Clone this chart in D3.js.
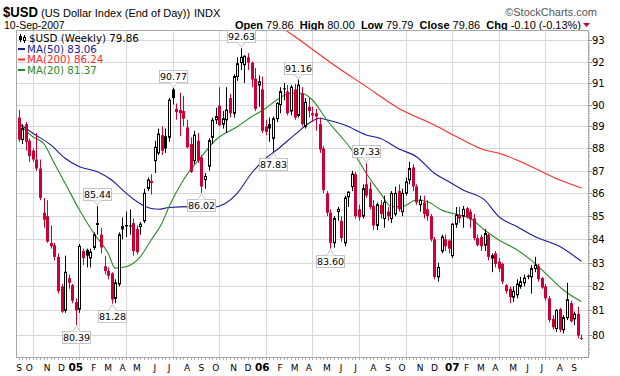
<!DOCTYPE html>
<html>
<head>
<meta charset="utf-8">
<script src="https://d3js.org/d3.v7.min.js"></script>
<style>
  body { margin: 0; background: #fff; }
  text { font-family: "DejaVu Sans", Verdana, sans-serif; }
</style>
</head>
<body>
<div id="chart"></div>
<script>
// weekly bars, first bar is the week of 6-Sep-2004
var firstWeek = "2004-09-06";

var opens = [89.40,88.40,89.10,88.35,87.90,87.50,87.10,85.15,85.00,83.85,83.75,83.25,82.00,81.00,82.35,82.05,81.35,81.05,83.50,83.55,
  83.20,83.65,84.70,84.20,82.85,82.65,82.55,81.50,82.10,84.45,84.62,84.60,84.70,84.45,84.55,84.80,86.22,86.55,87.45,87.80,
  88.60,88.55,88.50,90.70,89.80,89.75,89.70,88.95,88.20,87.45,88.35,87.60,86.60,87.20,88.50,89.30,89.95,89.10,89.30,90.30,
  89.60,91.30,91.95,91.85,92.20,91.95,91.20,90.90,90.70,89.00,89.10,88.45,89.35,90.00,90.75,90.60,89.70,90.70,89.50,90.50,
  89.00,89.90,89.60,89.60,89.10,88.00,86.00,85.15,83.85,85.20,84.80,83.85,85.85,86.30,86.85,85.30,85.00,86.40,86.20,85.45,
  84.60,85.50,84.90,85.20,84.90,85.10,86.10,85.20,86.00,86.60,87.15,86.30,85.50,85.60,85.30,85.00,84.00,82.40,83.50,84.00,
  83.95,83.30,84.65,85.05,85.00,85.35,85.20,84.90,84.05,84.10,83.75,84.20,83.20,83.40,83.05,82.95,82.05,81.90,81.55,81.65,
  82.00,82.15,82.45,82.40,82.75,82.85,82.35,82.00,81.50,80.65,80.25,81.05,80.20,80.70,81.30,80.65,80.85,79.86];
var highs = [89.75,89.10,89.20,88.45,88.00,88.70,87.50,85.80,85.70,84.60,83.85,83.40,82.10,83.30,82.50,82.10,81.50,83.80,83.60,83.60,
  83.60,84.30,85.44,84.50,83.30,82.80,82.60,82.30,84.30,84.95,85.20,85.30,84.90,84.60,84.75,86.20,86.70,86.85,88.35,88.90,
  89.00,88.90,90.30,90.77,90.05,90.55,90.40,89.30,88.50,88.80,88.70,87.70,86.90,88.45,89.40,89.85,90.80,89.70,90.80,90.50,
  91.40,92.20,92.63,92.30,92.40,92.00,91.70,91.35,91.30,89.30,89.40,89.45,90.10,90.80,91.00,90.90,90.90,90.95,91.16,90.80,
  90.30,90.30,89.90,89.80,89.40,88.10,86.10,85.30,85.00,85.40,85.00,85.90,86.10,87.00,86.95,85.50,86.40,87.33,86.50,85.70,
  85.60,85.70,85.90,85.40,86.10,86.30,86.40,86.20,86.70,87.40,87.30,86.40,85.90,85.90,85.70,85.10,84.10,83.00,84.20,84.20,
  84.00,84.70,85.40,85.40,85.45,85.40,85.30,85.10,84.20,84.20,84.45,84.25,83.40,83.50,83.20,83.00,82.10,82.00,82.00,82.30,
  82.40,82.50,82.50,82.90,83.25,82.95,82.40,82.10,81.60,80.80,81.05,81.10,80.80,82.15,81.40,80.95,81.15,80.00];
var lows = [88.30,88.20,87.90,87.40,87.40,87.00,85.70,84.50,83.85,83.60,83.10,81.70,80.90,80.90,81.90,81.30,80.39,80.90,82.90,82.80,
  82.80,83.55,84.20,83.40,82.50,82.30,81.28,81.30,82.00,84.00,84.10,84.20,83.30,83.35,84.20,84.70,86.10,85.95,86.90,87.70,
  87.70,87.80,88.30,90.00,89.30,88.55,89.00,88.00,86.90,87.30,87.35,86.02,86.20,87.00,88.20,89.10,89.00,88.90,88.70,89.40,
  89.40,91.10,91.60,91.00,91.60,90.80,89.70,89.90,88.70,88.60,88.30,87.83,89.20,89.60,90.20,89.50,89.50,89.30,89.40,89.00,
  88.90,89.40,89.20,88.80,87.80,86.00,85.00,83.60,83.65,84.80,83.90,83.70,85.40,86.10,84.90,84.80,84.90,85.80,85.30,84.40,
  84.40,84.90,84.50,84.80,84.70,85.00,85.20,85.00,85.90,86.40,86.10,85.50,85.20,84.90,84.80,83.90,82.30,82.20,83.40,83.50,
  83.40,83.20,84.50,84.70,84.50,84.90,84.50,83.95,83.70,83.50,83.50,83.10,82.60,82.80,82.60,82.10,81.70,81.30,81.35,81.50,
  81.90,82.00,82.30,81.70,82.60,82.20,81.90,81.40,80.50,80.20,80.10,80.10,80.05,80.60,80.50,80.40,79.85,79.79];
var closes = [88.40,88.90,88.30,87.65,87.50,87.10,85.80,84.85,83.90,83.70,83.25,81.80,80.95,82.60,82.15,81.40,81.00,83.70,83.20,83.30,
  83.45,84.20,84.62,83.65,82.65,82.45,81.45,82.15,84.20,84.55,84.55,84.56,83.50,83.45,84.65,86.00,86.59,86.45,88.05,88.65,
  87.90,88.00,90.20,90.30,89.65,89.60,89.35,88.05,86.95,88.60,87.45,86.30,86.75,88.35,89.28,89.45,89.05,89.35,89.75,89.60,
  91.30,91.90,92.20,92.25,91.95,91.16,89.80,91.05,88.80,88.75,88.90,89.35,90.05,90.60,90.70,89.60,90.80,89.40,90.90,89.10,
  90.10,89.70,89.50,89.45,87.95,86.15,85.15,83.85,84.90,85.30,84.05,85.80,86.05,86.85,85.00,84.95,86.20,85.90,85.40,84.60,
  85.50,85.10,85.60,85.00,86.00,86.00,85.30,86.00,86.50,87.10,86.30,85.60,85.70,85.10,85.00,84.00,82.40,82.80,84.10,83.70,
  83.60,84.65,85.05,84.90,85.30,84.95,84.85,84.05,83.75,83.70,84.25,83.25,83.30,82.95,82.75,82.20,81.80,81.55,81.80,82.10,
  82.20,82.35,82.40,82.75,82.90,82.30,81.95,81.50,80.60,80.30,81.00,80.20,80.70,81.45,80.55,80.85,79.96,79.86];

// moving averages: [week index, value]
var ma20 = [[0,89.14],[4,88.53],[7,88.23],[10,87.33],[13,86.45],[17,85.27],[21,84.26],[25,83.40],[27,82.77],[30,82.83],
  [34,83.26],[37,83.97],[40,84.69],[42,85.42],[46,86.59],[51,87.63],[55,88.38],[61,88.98],[65,89.44],[69,89.83],
  [72,90.21],[76,90.52],[79,90.52],[82,90.21],[86,89.29],[90,88.53],[93,87.93],[97,86.89],[101,86.00],[104,85.42],
  [107,85.42],[111,85.71],[114,85.64],[118,85.27],[123,85.05],[126,84.91],[130,84.40],[134,83.97],[139,83.55],
  [144,82.98],[148,82.41],[152,81.85],[157,81.37]];
var ma50 = [[0,89.14],[4,88.69],[9,88.16],[13,87.56],[17,87.18],[22,86.96],[26,86.59],[29,86.15],[33,85.64],[35,85.45],
  [39,85.30],[42,85.38],[48,85.42],[54,85.38],[61,86.00],[65,86.89],[69,87.56],[72,87.93],[77,88.61],[81,89.14],
  [84,89.37],[86,89.30],[91,89.06],[97,88.61],[101,88.45],[106,87.99],[111,87.63],[116,86.89],[120,86.52],[124,86.15],
  [130,85.71],[134,84.98],[139,84.55],[144,84.12],[151,83.69],[157,83.06]];
var ma200 = [[73,93.65],[77,93.20],[81,92.70],[88,91.84],[97,90.83],[106,89.83],[116,89.06],[123,88.46],[130,87.93],
  [134,87.78],[139,87.48],[144,87.11],[151,86.59],[157,86.24]];

var priceTicks = [80, 81, 82, 83, 84, 85, 86, 87, 88, 89, 90, 91, 92, 93];
var monthLetters = ["J", "F", "M", "A", "M", "J", "J", "A", "S", "O", "N", "D"];
// marked turning points: [week index, "high" | "low"]
var marked = [[16,"low"],[22,"high"],[26,"low"],[43,"high"],[51,"low"],[62,"high"],[71,"low"],[78,"high"],[87,"low"],[97,"high"]];

var redColor = "#cc0033";
var maColors = { ma50: "#1a1a99", ma200: "#ff2a2a", ma20: "#2a8a2a" };

var plotL = 16, plotR = 588, plotT = 30, plotB = 357;
var nWeeks = closes.length;

var parseDate = d3.timeParse("%Y-%m-%d");
var start = parseDate(firstWeek);

var xScale = d3.scaleLinear().domain([-0.7, nWeeks + 0.86]).range([plotL, plotR]);
var yScale = d3.scaleLog().domain([79.09, 93.5]).range([plotB, plotT]);

var svg = d3.select("#chart").append("svg").attr("width", 620).attr("height", 376);

// header
var sans = "Liberation Sans, Arial, sans-serif";
svg.append("text").attr("x", 3).attr("y", 16.5).style("font-family", sans).style("font-weight", "bold")
  .style("font-size", "15px").attr("textLength", 35).attr("lengthAdjust", "spacingAndGlyphs").text("$USD");
svg.append("text").attr("x", 41).attr("y", 17).style("font-family", sans).style("font-size", "11px")
  .text("(US Dollar Index (End of Day))");
svg.append("text").attr("x", 194).attr("y", 17).style("font-family", sans).style("font-size", "11px")
  .text("INDX");
svg.append("text").attr("x", 597).attr("y", 16).attr("text-anchor", "end").style("font-family", sans)
  .style("font-size", "11px").attr("fill", "#555").text("\u00a9StockCharts.com");
svg.append("text").attr("x", 4).attr("y", 29).style("font-family", sans).style("font-size", "10.5px")
  .text("10-Sep-2007");

var quote = svg.append("text").attr("x", 581).attr("y", 29).attr("text-anchor", "end")
  .style("font-family", sans).style("font-size", "11px");
[["Open", "79.86"], ["High", "80.00"], ["Low", "79.79"], ["Close", "79.86"], ["Chg", "-0.10 (-0.13%)"]].forEach(function (p, k) {
  quote.append("tspan").style("font-weight", "bold").attr("xml:space", "preserve").text((k ? "  " : "") + p[0] + " ");
  quote.append("tspan").text(p[1]);
});
svg.append("path").attr("d", "M583,23L590,23L586.5,27Z").attr("fill", redColor);

// grid
var grid = svg.append("g");
grid.selectAll(".hgrid").data(priceTicks).enter().append("line")
  .attr("x1", plotL).attr("x2", plotR)
  .attr("y1", function (d) { return Math.round(yScale(d)) + 0.5; })
  .attr("y2", function (d) { return Math.round(yScale(d)) + 0.5; })
  .attr("stroke", "#d8d8d8");

// month markers: week containing the 1st of each month
var months = d3.timeMonth.range(new Date(2004, 8, 1), new Date(2007, 9, 1)).map(function (m) {
  var idx = Math.floor((m - start) / (7 * 864e5));
  return { date: m, idx: idx };
});
var quarterLines = months.filter(function (m) { return m.date.getMonth() % 3 === 0; }).map(function (m) {
  return Math.ceil((m.date - start) / (7 * 864e5));
});
grid.selectAll(".vgrid").data(quarterLines).enter().append("line")
  .attr("y1", plotT).attr("y2", plotB)
  .attr("x1", function (d) { return Math.round(xScale(d)) + 0.5; })
  .attr("x2", function (d) { return Math.round(xScale(d)) + 0.5; })
  .attr("stroke", "#d8d8d8");

// frame
svg.append("rect").attr("x", plotL + 0.5).attr("y", plotT + 0.5).attr("width", plotR - plotL).attr("height", plotB - plotT)
  .attr("fill", "none").attr("stroke", "#a8a8a8");

// right axis
var minor = d3.range(79.2, 93.5, 0.1);
svg.append("g").selectAll("line").data(minor).enter().append("line")
  .attr("x1", plotR).attr("x2", plotR + 2)
  .attr("y1", function (d) { return Math.round(yScale(d)) + 0.5; })
  .attr("y2", function (d) { return Math.round(yScale(d)) + 0.5; })
  .attr("stroke", "#b0b0b0");
svg.append("g").selectAll("line").data(priceTicks).enter().append("line")
  .attr("x1", plotR).attr("x2", plotR + 4)
  .attr("y1", function (d) { return Math.round(yScale(d)) + 0.5; })
  .attr("y2", function (d) { return Math.round(yScale(d)) + 0.5; })
  .attr("stroke", "#909090");
svg.append("g").selectAll("text").data(priceTicks).enter().append("text")
  .attr("x", 592).attr("y", function (d) { return yScale(d) + 4; })
  .style("font-size", "10px").text(function (d) { return d; });

// bottom axis
svg.append("g").selectAll("line").data(d3.range(nWeeks)).enter().append("line")
  .attr("x1", function (d) { return Math.round(xScale(d)) + 0.5; })
  .attr("x2", function (d) { return Math.round(xScale(d)) + 0.5; })
  .attr("y1", plotB + 1).attr("y2", plotB + 3)
  .attr("stroke", "#b0b0b0");
svg.append("g").selectAll("text").data(months).enter().append("text")
  .attr("x", function (d) { return Math.max(xScale(d.idx), plotL + 3); })
  .attr("y", 371).attr("text-anchor", "middle")
  .style("font-size", function (d) { return d.date.getMonth() === 0 ? "10.5px" : "9px"; })
  .style("font-weight", function (d) { return d.date.getMonth() === 0 ? "bold" : "normal"; })
  .text(function (d) {
    return d.date.getMonth() === 0 ? d3.timeFormat("%y")(d.date) : monthLetters[d.date.getMonth()];
  });

// moving averages
var maLine = d3.line().curve(d3.curveMonotoneX)
  .x(function (d) { return xScale(d[0]); })
  .y(function (d) { return yScale(d[1]); });
svg.append("clipPath").attr("id", "plotclip").append("rect")
  .attr("x", plotL + 1).attr("y", plotT + 1).attr("width", plotR - plotL - 1).attr("height", plotB - plotT - 1);
var maG = svg.append("g").attr("clip-path", "url(#plotclip)");
maG.append("path").attr("d", maLine(ma50)).attr("fill", "none").attr("stroke", maColors.ma50).attr("stroke-width", 1.1);
maG.append("path").attr("d", maLine(ma200)).attr("fill", "none").attr("stroke", maColors.ma200).attr("stroke-width", 1.1);
maG.append("path").attr("d", maLine(ma20)).attr("fill", "none").attr("stroke", maColors.ma20).attr("stroke-width", 1.1);

// candles
var bars = d3.range(nWeeks).map(function (i) {
  return { i: i, o: opens[i], h: highs[i], l: lows[i], c: closes[i], prev: i ? closes[i - 1] : opens[i] + 1 };
});
var cg = svg.append("g");
bars.forEach(function (d) {
  var px = Math.round(xScale(d.i));
  var col = d.c < d.prev ? redColor : "#000";
  cg.append("line").attr("x1", px + 0.5).attr("x2", px + 0.5)
    .attr("y1", yScale(d.h)).attr("y2", yScale(d.l)).attr("stroke", col);
  var top = yScale(Math.max(d.o, d.c)), bot = yScale(Math.min(d.o, d.c));
  if (d.c > d.o) {
    cg.append("rect").attr("x", px - 0.5).attr("width", 2).attr("y", top).attr("height", Math.max(bot - top, 1))
      .attr("fill", "#fff").attr("stroke", col);
  } else {
    cg.append("rect").attr("x", px - 1).attr("width", 3).attr("y", top).attr("height", Math.max(bot - top, 1))
      .attr("fill", col);
  }
});

// value labels at turning points
var lg = svg.append("g");
marked.forEach(function (m) {
  var i = m[0], isHigh = m[1] === "high";
  var v = isHigh ? highs[i] : lows[i];
  var px = Math.round(xScale(i)) + 0.5;
  var tip = isHigh ? yScale(v) - 1 : yScale(v) + 1;
  var edge = isHigh ? tip - 5 : tip + 5;
  var boxY = isHigh ? edge - 12 : edge;
  lg.append("rect").attr("x", px - 14).attr("y", Math.round(boxY) + 0.5).attr("width", 28).attr("height", 12)
    .attr("fill", "#fff").attr("stroke", "#c4c4c4");
  lg.append("path").attr("d", "M" + (px - 4) + "," + (Math.round(edge) + 0.5) + "L" + px + "," + tip + "L" + (px + 4) + "," + (Math.round(edge) + 0.5))
    .attr("fill", "#fff").attr("stroke", "#c4c4c4");
  lg.append("text").attr("x", px).attr("y", Math.round(boxY) + 10).attr("text-anchor", "middle")
    .style("font-size", "9.5px").text(v.toFixed(2));
});

// legend
var leg = svg.append("g").style("font-size", "10.3px");
leg.append("line").attr("x1", 20.5).attr("x2", 20.5).attr("y1", 34).attr("y2", 42).attr("stroke", "#000");
leg.append("rect").attr("x", 19).attr("y", 36).attr("width", 3).attr("height", 4).attr("fill", "#000");
leg.append("line").attr("x1", 24.5).attr("x2", 24.5).attr("y1", 35).attr("y2", 43).attr("stroke", "#000");
leg.append("rect").attr("x", 23.5).attr("y", 37.5).attr("width", 2).attr("height", 3).attr("fill", "#fff").attr("stroke", "#000");
leg.append("text").attr("x", 29).attr("y", 42).text("$USD (Weekly) 79.86");
[["MA(50) 83.06", maColors.ma50], ["MA(200) 86.24", maColors.ma200], ["MA(20) 81.37", maColors.ma20]].forEach(function (e, k) {
  var y = 52.5 + k * 10.5;
  leg.append("line").attr("x1", 18).attr("x2", 25).attr("y1", y - 3.5).attr("y2", y - 3.5).attr("stroke", e[1]).attr("stroke-width", 2);
  leg.append("text").attr("x", 27).attr("y", y).attr("fill", e[1]).text(e[0]);
});
</script>
</body>
</html>
